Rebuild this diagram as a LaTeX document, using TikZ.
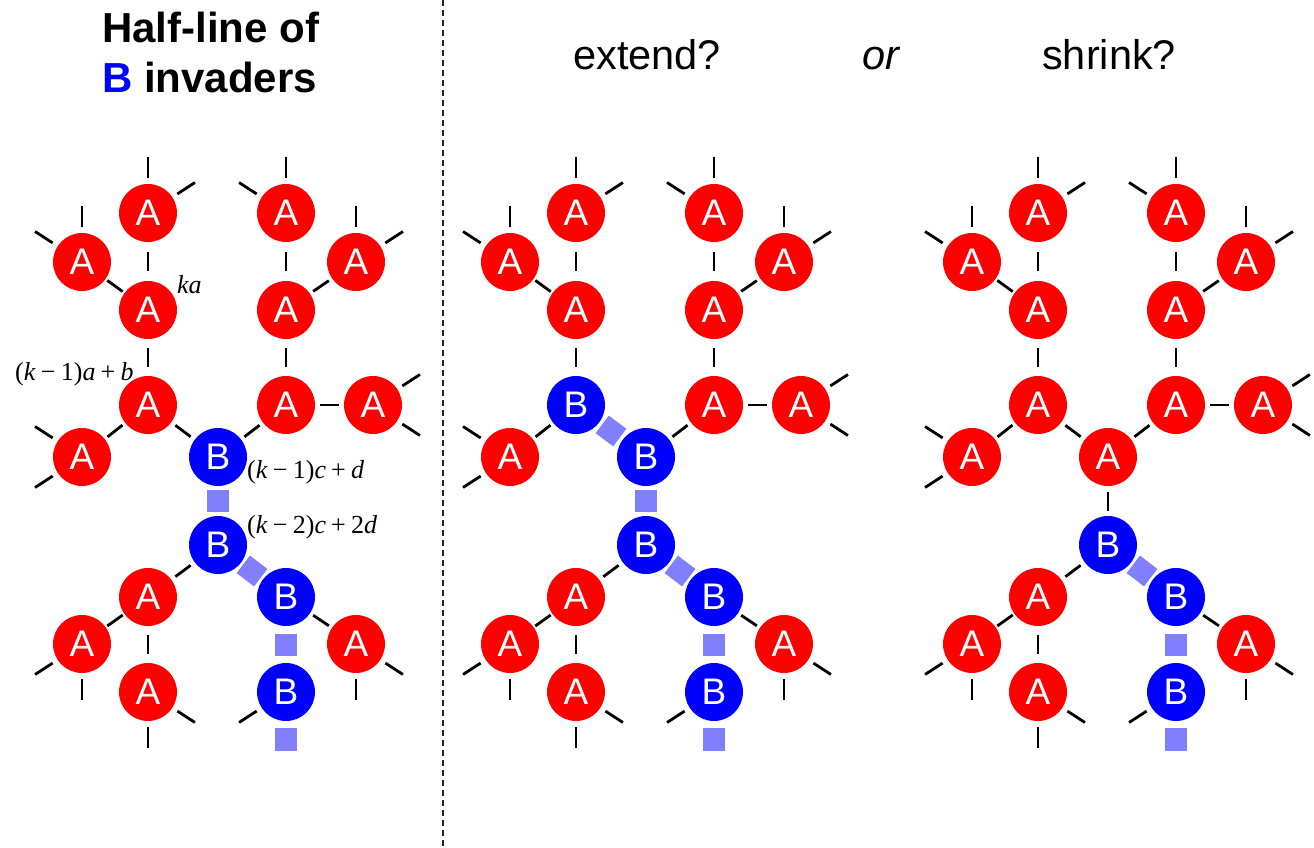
\documentclass[tikz,border=0pt]{standalone}
\usepackage{fontspec}
\setmainfont{Liberation Sans}
\newfontfamily\mserif{Liberation Serif}
\usetikzlibrary{calc}
\definecolor{cA}{RGB}{255,0,0}
\definecolor{cB}{RGB}{0,0,255}
\definecolor{cBond}{RGB}{128,128,255}
\tikzset{
 site/.style={circle,minimum size=58pt,inner sep=0pt,text=white,font=\fontsize{37}{37}\selectfont},
 nA/.style={site,fill=cA},
 nB/.style={site,fill=cB},
 thin bond/.style={line width=2.8pt,black},
 thick bond/.style={line width=22pt,cBond},
 lab/.style={anchor=base west,inner sep=0pt,font=\mserif\fontsize{26}{26}\selectfont},
 ttl/.style={anchor=base west,inner sep=0pt,font=\fontsize{41.5}{41.5}\selectfont},
 divider/.style={line width=1.6pt,dash pattern=on 6pt off 4pt,black!85},
}
\newcommand\tb[2]{\draw[thin bond] ($(#1)!0.5!(#2)!9.5pt!(#1)$) -- ($(#1)!0.5!(#2)!9.5pt!(#2)$);}
\newcommand\kb[2]{\draw[thick bond] ($(#1)!0.5!(#2)!11pt!(#1)$) -- ($(#1)!0.5!(#2)!11pt!(#2)$);}
\newcommand\ts[2]{\draw[thin bond] ([shift={(#2:35pt)}]#1.center) -- ([shift={(#2:56pt)}]#1.center);}
\newcommand\ks[2]{\draw[thick bond] ([shift={(#2:36pt)}]#1.center) -- ([shift={(#2:59pt)}]#1.center);}
% #1 prefix, #2 xshift, #3/#4 style/letter of a4, #5/#6 style/letter of b1, #7 bond a4-b1, #8 bond b1-b2
\newcommand\panel[8]{%
\begin{scope}[xshift=#2pt]
\node[nA] (#1a1) at (148,213) {A};
\node[nA] (#1a2) at (82,262) {A};
\node[nA] (#1a3) at (148,310) {A};
\node[#3] (#1a4) at (148,405) {#4};
\node[nA] (#1a5) at (82,457) {A};
\node[#5] (#1b1) at (218,457) {#6};
\node[nA] (#1a6) at (286,213) {A};
\node[nA] (#1a7) at (356,262) {A};
\node[nA] (#1a8) at (286,310) {A};
\node[nA] (#1a9) at (286,405) {A};
\node[nA] (#1a10) at (373,405) {A};
\node[nB] (#1b2) at (218,545) {B};
\node[nA] (#1a11) at (148,597) {A};
\node[nB] (#1b3) at (286,597) {B};
\node[nA] (#1a12) at (82,644) {A};
\node[nA] (#1a14) at (356,644) {A};
\node[nA] (#1a13) at (148,692) {A};
\node[nB] (#1b4) at (286,692) {B};
\end{scope}
\tb{#1a1}{#1a3}\tb{#1a2}{#1a3}\tb{#1a3}{#1a4}\tb{#1a4}{#1a5}
#7{#1a4}{#1b1}
\tb{#1a6}{#1a8}\tb{#1a7}{#1a8}\tb{#1a8}{#1a9}\tb{#1a9}{#1a10}\tb{#1a9}{#1b1}
#8{#1b1}{#1b2}
\tb{#1b2}{#1a11}\kb{#1b2}{#1b3}\tb{#1a11}{#1a12}\tb{#1a11}{#1a13}
\tb{#1b3}{#1a14}\kb{#1b3}{#1b4}
\ts{#1a1}{90}\ts{#1a1}{33}
\ts{#1a2}{90}\ts{#1a2}{147}
\ts{#1a5}{147}\ts{#1a5}{213}
\ts{#1a6}{90}\ts{#1a6}{147}
\ts{#1a7}{90}\ts{#1a7}{33}
\ts{#1a10}{33}\ts{#1a10}{-33}
\ts{#1a12}{213}\ts{#1a12}{-90}
\ts{#1a13}{-33}\ts{#1a13}{-90}
\ts{#1a14}{-33}\ts{#1a14}{-90}
\ts{#1b4}{213}\ks{#1b4}{-90}
}
\begin{document}
\begin{tikzpicture}[x=1pt,y=-1pt]
\useasboundingbox (0,0) rectangle (1314,848);
\coordinate (dtop) at (443,0);
\coordinate (dbot) at (443,848);
\draw[divider] (dtop) -- (dbot);
\node[ttl,font=\bfseries\fontsize{42}{42}\selectfont] (t1) at (102,43) {Half-line of};
\node[ttl,font=\bfseries\fontsize{42}{42}\selectfont] (t2) at (102,93) {\textcolor{cB}{B} invaders};
\node[ttl] (t3) at (573,70) {extend?};
\node[ttl,font=\itshape\fontsize{41.5}{41.5}\selectfont] (t4) at (862,70) {or};
\node[ttl] (t5) at (1042,70) {shrink?};
\panel{L}{0}{nA}{A}{nB}{B}{\tb}{\kb}
\panel{M}{428}{nB}{B}{nB}{B}{\kb}{\kb}
\panel{R}{890}{nA}{A}{nA}{A}{\tb}{\tb}
\node[lab] (l1) at (177,293) {\textit{ka}};
\node[lab] (l2) at (15,380) {(\textit{k}\hspace{0.2em}−\hspace{0.2em}1)\textit{a}\hspace{0.2em}+\hspace{0.2em}\textit{b}};
\node[lab] (l3) at (247,478) {(\textit{k}\hspace{0.2em}−\hspace{0.2em}1)\textit{c}\hspace{0.2em}+\hspace{0.2em}\textit{d}};
\node[lab] (l4) at (247,533) {(\textit{k}\hspace{0.2em}−\hspace{0.2em}2)\textit{c}\hspace{0.2em}+\hspace{0.2em}2\textit{d}};
\end{tikzpicture}
\end{document}
